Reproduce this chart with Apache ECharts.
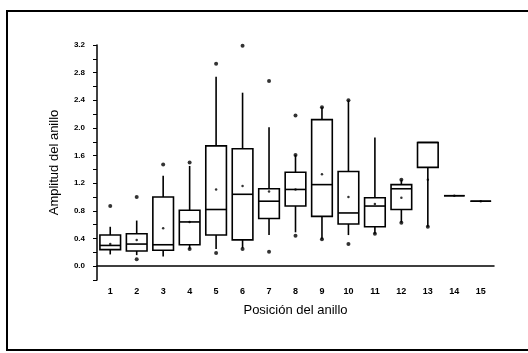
<!DOCTYPE html>
<html>
<head>
  <meta charset="utf-8">
</head>
<body style="margin: 0; background: #fff">
  <div id="container" style="width: 528px; height: 353px"></div>
  <script type="text/javascript" src="https://cdn.jsdelivr.net/npm/echarts@6/dist/echarts.min.js"></script>
  <script type="text/javascript">
    // ring positions on the x axis
    var positions = ['1', '2', '3', '4', '5', '6', '7', '8', '9', '10', '11', '12', '13', '14', '15'];
    // [min whisker, Q1, median, Q3, max whisker]
    var boxes = [
      [0.17, 0.24, 0.30, 0.45, 0.57],
      [0.16, 0.22, 0.32, 0.47, 0.66],
      [0.14, 0.23, 0.31, 1.00, 1.31],
      [0.25, 0.31, 0.64, 0.81, 1.45],
      [0.25, 0.45, 0.82, 1.74, 2.74],
      [0.26, 0.38, 1.04, 1.70, 2.51],
      [0.45, 0.69, 0.94, 1.12, 2.01],
      [0.49, 0.87, 1.11, 1.36, 1.61],
      [0.39, 0.72, 1.18, 2.12, 2.30],
      [0.45, 0.61, 0.77, 1.37, 2.40],
      [0.47, 0.57, 0.87, 0.99, 1.86],
      [0.63, 0.82, 1.12, 1.18, 1.25],
      [0.57, 1.43, 1.79, 1.79, 1.79],
      [1.02, 1.02, 1.02, 1.02, 1.02],
      [0.94, 0.94, 0.94, 0.94, 0.94]
    ];
    var means = [0.32, 0.38, 0.55, 0.64, 1.11, 1.16, 1.08, 1.11, 1.33, 1.00, 0.90, 0.99, 1.25, 1.02, 0.94];
    // [position index, value]
    var outliers = [
      [0, 0.87], [1, 1.00], [1, 0.10], [2, 1.47], [3, 1.50], [3, 0.25],
      [4, 2.93], [4, 0.19], [5, 3.19], [5, 0.25], [6, 2.68], [6, 0.21],
      [7, 2.18], [7, 1.61], [7, 0.44], [8, 2.30], [8, 0.39], [9, 2.40],
      [9, 0.32], [10, 0.47], [11, 1.25], [11, 0.63], [12, 0.57]
    ];

    var dom = document.getElementById('container');
    var myChart = echarts.init(dom, null, { renderer: 'canvas' });

    function renderBox(params, api) {
      var i = api.value(0);
      var low = api.coord([i, api.value(1)]);
      var q1 = api.coord([i, api.value(2)]);
      var med = api.coord([i, api.value(3)]);
      var q3 = api.coord([i, api.value(4)]);
      var high = api.coord([i, api.value(5)]);
      var w = api.size([1, 0])[0] * 0.78;
      var x = q1[0];
      var st = { stroke: '#000', lineWidth: 1.6, fill: 'none' };
      return {
        type: 'group',
        children: [
          { type: 'line', shape: { x1: x, y1: q3[1], x2: x, y2: high[1] }, style: st },
          { type: 'line', shape: { x1: x, y1: q1[1], x2: x, y2: low[1] }, style: st },
          { type: 'rect', shape: { x: x - w / 2, y: q3[1], width: w, height: q1[1] - q3[1] }, style: { stroke: '#000', lineWidth: 1.6, fill: '#fff' } },
          { type: 'line', shape: { x1: x - w / 2, y1: med[1], x2: x + w / 2, y2: med[1] }, style: st }
        ]
      };
    }

    var option = {
      animation: false,
      backgroundColor: '#fff',
      textStyle: { fontFamily: 'Liberation Sans' },
      graphic: [{
        type: 'rect',
        shape: { x: 7, y: 11, width: 530, height: 339 },
        style: { fill: 'none', stroke: '#000', lineWidth: 2 }
      }],
      grid: { left: 97, right: 34, top: 45, bottom: 73 },
      xAxis: {
        type: 'category',
        data: positions,
        name: 'Posición del anillo',
        nameLocation: 'middle',
        nameGap: 24,
        nameTextStyle: { fontSize: 13, color: '#000' },
        axisLine: { lineStyle: { color: '#000', width: 1.5 } },
        axisTick: { alignWithLabel: true, length: 4, lineStyle: { color: '#000' } },
        axisLabel: { fontSize: 9, fontWeight: 'bold', color: '#000', margin: 7 },
        splitLine: { show: false }
      },
      yAxis: {
        type: 'value',
        min: -0.2,
        max: 3.2,
        interval: 0.2,
        name: 'Amplitud del anillo',
        nameLocation: 'middle',
        nameGap: 36,
        nameTextStyle: { fontSize: 13, color: '#000' },
        axisLine: { show: true, lineStyle: { color: '#000', width: 1.5 } },
        axisTick: { show: true, length: 4, lineStyle: { color: '#000' } },
        axisLabel: {
          fontSize: 8, fontWeight: 'bold', color: '#000', margin: 12,
          formatter: function (v) {
            var k = Math.round(v * 10);
            return (k >= 0 && k % 4 === 0) ? (k / 10).toFixed(1) : '';
          }
        },
        splitLine: { show: false }
      },
      series: [
        {
          type: 'custom',
          renderItem: renderBox,
          encode: { x: 0, y: [1, 2, 3, 4, 5] },
          data: boxes.map(function (b, i) { return [i].concat(b); }),
          z: 2
        },
        {
          type: 'scatter',
          symbolSize: 2.5,
          itemStyle: { color: '#000' },
          data: means.map(function (m, i) { return [i, m]; }),
          z: 3
        },
        {
          type: 'scatter',
          symbolSize: 4,
          itemStyle: { color: '#000' },
          data: outliers,
          z: 3
        }
      ]
    };
    myChart.setOption(option);
  </script>
</body>
</html>
